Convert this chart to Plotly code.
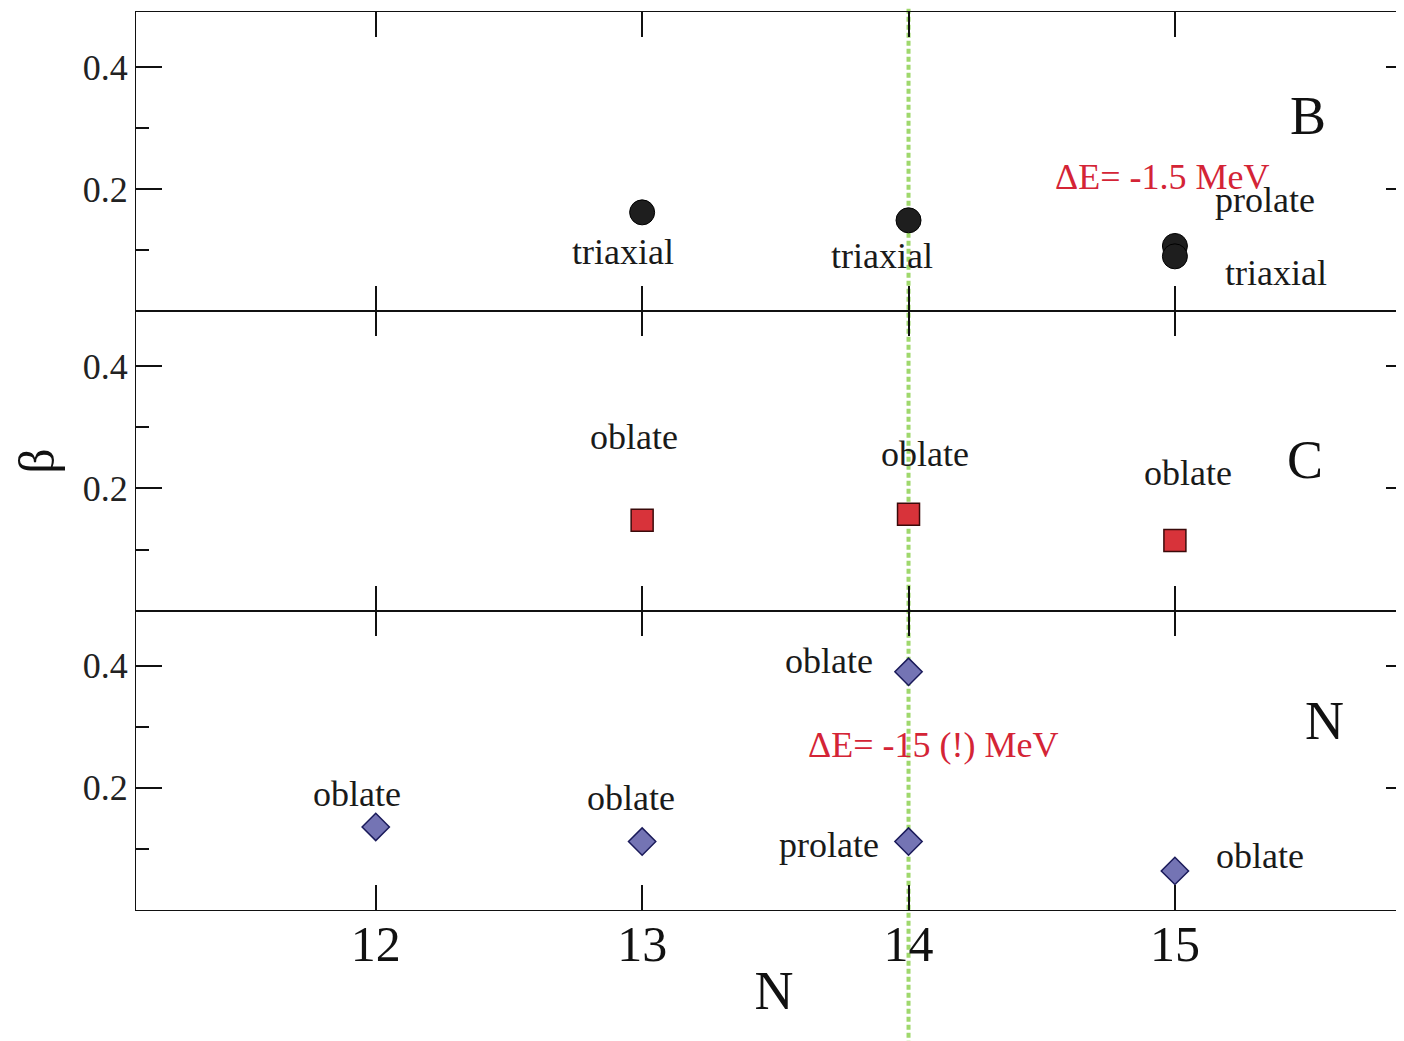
import plotly.graph_objects as go
from plotly.subplots import make_subplots

# panel B (top): black circles
b_n = [13, 14, 15, 15]
b_beta = [0.162, 0.149, 0.107, 0.090]

# panel C (middle): red squares
c_n = [13, 14, 15]
c_beta = [0.148, 0.158, 0.115]

# panel N (bottom): blue diamonds
n_n = [12, 13, 14, 14, 15]
n_beta = [0.136, 0.112, 0.390, 0.112, 0.064]

x_ticks = [12, 13, 14, 15]
y_ticks = [0.2, 0.4]
y_ticktext = ["0.2", "0.4"]
y_minor = [0.1, 0.3]

# text labels: (panel row, text, N, beta)
shape_labels = [
    (1, "triaxial", 12.93, 0.097),
    (1, "triaxial", 13.90, 0.091),
    (1, "prolate", 15.34, 0.183),
    (1, "triaxial", 15.38, 0.063),
    (2, "oblate", 12.97, 0.285),
    (2, "oblate", 14.06, 0.257),
    (2, "oblate", 15.05, 0.225),
    (3, "oblate", 11.93, 0.190),
    (3, "oblate", 12.96, 0.184),
    (3, "oblate", 13.70, 0.407),
    (3, "prolate", 13.70, 0.107),
    (3, "oblate", 15.32, 0.089),
]
de_labels = [
    (1, "ΔE= -1.5 MeV", 14.95, 0.220),
    (3, "ΔE= -15 (!) MeV", 14.09, 0.270),
]
panel_names = [
    (1, "B", 15.50, 0.319),
    (2, "C", 15.49, 0.246),
    (3, "N", 15.56, 0.310),
]

SERIF = "Liberation Serif, Times New Roman, serif"

fig = make_subplots(rows=3, cols=1, shared_xaxes=True, vertical_spacing=0)

fig.add_trace(go.Scatter(x=b_n, y=b_beta, mode="markers",
                         marker=dict(symbol="circle", size=25, color="#1e1e1e",
                                     line=dict(color="black", width=1))),
              row=1, col=1)
fig.add_trace(go.Scatter(x=c_n, y=c_beta, mode="markers",
                         marker=dict(symbol="square", size=22, color="#d8333a",
                                     line=dict(color="#3a0a0a", width=1.5))),
              row=2, col=1)
fig.add_trace(go.Scatter(x=n_n, y=n_beta, mode="markers",
                         marker=dict(symbol="diamond", size=21, color="#7474b4",
                                     line=dict(color="#1a1a5a", width=1.5))),
              row=3, col=1)

for r in (1, 2, 3):
    fig.update_xaxes(range=[11.10, 15.89], tickvals=x_ticks, ticks="inside",
                     ticklen=25, tickwidth=2, tickcolor="#111",
                     showline=True, linecolor="#111", linewidth=1.2,
                     mirror="ticks", showgrid=False, zeroline=False,
                     showticklabels=(r == 3), row=r, col=1)
    fig.update_yaxes(range=[0, 0.49], tickvals=y_ticks, ticktext=y_ticktext,
                     ticks="inside", ticklen=26, tickwidth=2, tickcolor="#111",
                     minor=dict(tickvals=y_minor, ticks="inside", ticklen=13,
                                tickwidth=2, tickcolor="#111", showgrid=False),
                     showline=True, linecolor="#111", linewidth=1.2,
                     mirror="ticks", showgrid=False, zeroline=False,
                     tickfont=dict(family=SERIF, size=36, color="#222"),
                     row=r, col=1)

fig.update_xaxes(tickfont=dict(family=SERIF, size=50, color="#111"),
                 ticklabelstandoff=-10,
                 title=dict(text="N", font=dict(family=SERIF, size=54, color="#111"),
                            standoff=0),
                 row=3, col=1)
fig.update_yaxes(title=dict(text="β", font=dict(family=SERIF, size=50, color="#111"),
                            standoff=12),
                 row=2, col=1)

yref = {1: "y", 2: "y2", 3: "y3"}
xref = {1: "x", 2: "x2", 3: "x3"}
annotations = []
for r, t, x, y in shape_labels:
    annotations.append(dict(x=x, y=y, xref=xref[r], yref=yref[r], text=t,
                            showarrow=False,
                            font=dict(family=SERIF, size=36, color="#1a1a1a")))
for r, t, x, y in de_labels:
    annotations.append(dict(x=x, y=y, xref=xref[r], yref=yref[r], text=t,
                            showarrow=False,
                            font=dict(family=SERIF, size=36, color="#d42436")))
for r, t, x, y in panel_names:
    annotations.append(dict(x=x, y=y, xref=xref[r], yref=yref[r], text=t,
                            showarrow=False,
                            font=dict(family=SERIF, size=54, color="#111")))

fig.update_layout(
    width=1404, height=1041,
    margin=dict(l=128, r=0, t=4, b=139),
    paper_bgcolor="white", plot_bgcolor="white",
    showlegend=False,
    annotations=annotations,
    shapes=[dict(type="line", xref="x", yref="paper", x0=14, x1=14,
                 y0=-0.16, y1=1.01,
                 line=dict(color="#9fd86c", width=4, dash="5px,3px"),
                 layer="below")],
)

fig.write_html("out.html")
